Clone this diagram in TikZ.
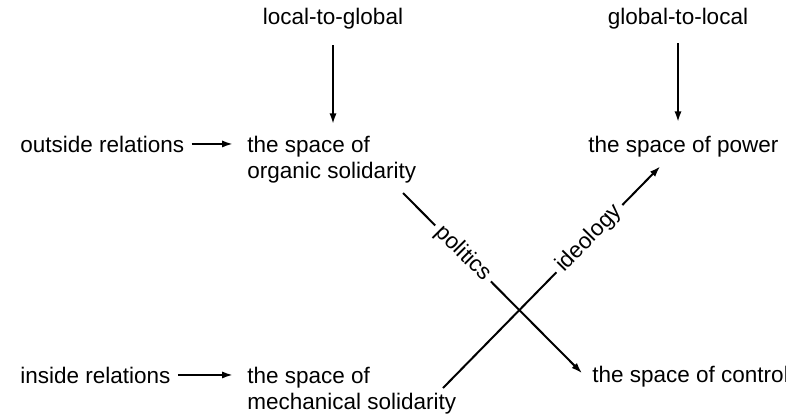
\documentclass[tikz,border=0pt]{standalone}
\usepackage{fontspec}
\setmainfont{Liberation Sans}
\usetikzlibrary{arrows.meta,positioning}

\begin{document}
\begin{tikzpicture}[
  x=0.5pt, y=-0.5pt,
  txt/.style={font=\fontsize{11.25}{13}\selectfont, inner sep=3.5pt, align=left, anchor=base west},
  lab/.style={font=\fontsize{11.25}{13}\selectfont, sloped, fill=white, inner sep=2.5pt},
  arr/.style={-{Latex[length=5.5pt,width=3.6pt]}, line width=1pt}
]
\useasboundingbox (0,0) rectangle (786,414);

\node[txt, anchor=base] (ltog) at (333,24) {local-to-global};
\node[txt, anchor=base] (gtol) at (678,24) {global-to-local};
\node[txt] (outside) at (13,152) {outside relations};
\node[txt] (organic) at (240,178) {the space of\\organic solidarity};
\node[txt] (power) at (581,152) {the space of power};
\node[txt] (inside) at (13,383) {inside relations};
\node[txt] (mechanic) at (240,409) {the space of\\mechanical solidarity};
\node[txt] (control) at (585,382) {the space of control};

\coordinate (polbeg) at (403,193);
\coordinate (ideobeg) at (443,388);

\draw[arr, line width=1.4pt, shorten <=4.5pt, shorten >=2pt] (ltog.south) -- (ltog.south |- organic.north);
\draw[arr, line width=1.4pt, shorten <=3.5pt, shorten >=3pt] (gtol.south) -- (gtol.south |- power.north);
\draw[arr, shorten >=3.5pt] (outside) -- (outside -| organic.west);
\draw[arr, shorten >=3.5pt] (inside) -- (inside -| mechanic.west);
\draw[arr, shorten >=2pt] (polbeg) -- node[lab, pos=0.33] {politics} (control.west);
\draw[arr, shorten >=1.5pt] (ideobeg) -- node[lab, pos=0.667] {ideology} ([xshift=-10.5pt]power.south);
\end{tikzpicture}
\end{document}
